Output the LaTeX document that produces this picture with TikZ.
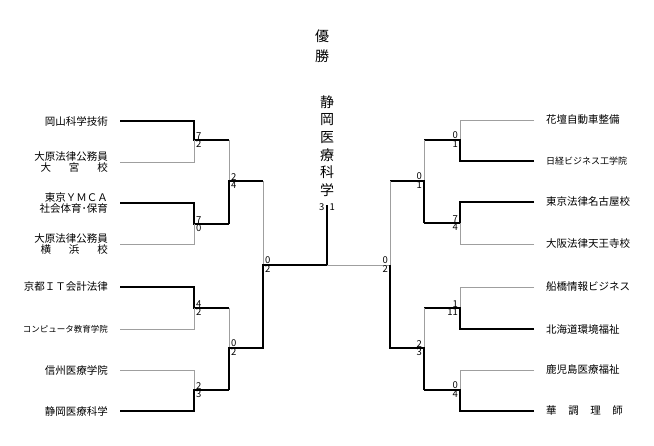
\documentclass[tikz,border=0pt]{standalone}
\usepackage{fontspec}
\newfontfamily\jp{Noto Sans CJK JP}
\begin{document}
\begin{tikzpicture}[x=1pt,y=-1pt,
 win/.style={line width=2.6pt,black},
 lose/.style={line width=0.6pt,gray!75},
 team/.style={font=\jp\fontsize{10.5}{10.5}\selectfont,inner sep=0pt,align=right},
 rteam/.style={font=\jp\fontsize{10.5}{10.5}\selectfont,inner sep=0pt,align=left},
 sc/.style={font=\jp\fontsize{9.5}{10}\selectfont,inner sep=0.8pt},
 vt/.style={font=\jp\fontsize{14}{15}\selectfont,inner sep=0pt}]
\useasboundingbox (0,0) rectangle (654,445);
% title
\node[vt] (t1) at (322,36) {優};
\node[vt] (t2) at (322,56) {勝};
\foreach \c [count=\i] in {静,岡,医,療,科,学}
  \node[vt] (w\i) at (327,85+17.5*\i) {\c};
% left teams
\node[team,anchor=east] (L1) at (108,121) {岡山科学技術};
\node[team,anchor=east] (L2) at (108,162) {大原法律公務員\\大\hspace{1.7em}宮\hspace{1.7em}校};
\node[team,anchor=east] (L3) at (108,203) {東京ＹＭＣＡ\\社会体育･保育};
\node[team,anchor=east] (L4) at (108,244) {大原法律公務員\\横\hspace{1.7em}浜\hspace{1.7em}校};
\node[team,anchor=east] (L5) at (108,287) {京都ＩＴ会計法律};
\node[team,anchor=east,font=\jp\fontsize{8.5}{9}\selectfont] (L6) at (108,329) {コンピュータ教育学院};
\node[team,anchor=east] (L7) at (108,370) {信州医療学院};
\node[team,anchor=east] (L8) at (108,411) {静岡医療科学};
% right teams
\node[rteam,anchor=west] (R1) at (546,120) {花壇自動車整備};
\node[rteam,anchor=west,font=\jp\fontsize{9}{9}\selectfont] (R2) at (546,161) {日経ビジネス工学院};
\node[rteam,anchor=west] (R3) at (546,202) {東京法律名古屋校};
\node[rteam,anchor=west] (R4) at (546,244) {大阪法律天王寺校};
\node[rteam,anchor=west] (R5) at (546,287) {船橋情報ビジネス};
\node[rteam,anchor=west] (R6) at (546,329) {北海道環境福祉};
\node[rteam,anchor=west] (R7) at (546,370) {鹿児島医療福祉};
\node[rteam,anchor=west] (R8) at (546,411) {華\hspace{1.1em}調\hspace{1.1em}理\hspace{1.1em}師};
% left lines
\draw[win] (120,121) -| (194,140) -- (229,140);
\draw[lose] (120,162) -| (194,140);
\draw[win] (120,203) -| (194,224) -- (229,224);
\draw[lose] (120,244) -| (194,224);
\draw[lose] (229,140) -- (229,181);
\draw[win] (229,224) -- (229,181) -- (263,181);
\draw[lose] (263,181) -- (263,265);
\draw[win] (120,287) -| (194,308) -- (229,308);
\draw[lose] (120,329) -| (194,308);
\draw[lose] (120,370) -| (194,390);
\draw[win] (120,411) -| (194,390) -- (229,390);
\draw[lose] (229,308) -- (229,348);
\draw[win] (229,390) -- (229,348) -- (263,348) -- (263,265) -- (327,265) -- (327,205);
% right lines
\draw[lose] (534,120) -| (460,140);
\draw[win] (534,161) -| (460,140) -- (424,140);
\draw[win] (534,202) -| (460,223) -- (424,223);
\draw[lose] (534,244) -| (460,223);
\draw[lose] (424,140) -- (424,181);
\draw[win] (424,223) -- (424,181) -- (390,181);
\draw[lose] (390,181) -- (390,265) -- (327,265);
\draw[lose] (534,287) -| (460,308);
\draw[win] (534,329) -| (460,308) -- (424,308);
\draw[lose] (534,370) -| (460,390);
\draw[win] (534,411) -| (460,390) -- (424,390);
\draw[lose] (424,308) -- (424,348);
\draw[win] (424,390) -- (424,348) -- (390,348) -- (390,265);
% left scores
\foreach \x/\y/\a/\b in {194/140/7/2,194/224/7/0,229/181/2/4,263/265/0/2,194/308/4/2,194/390/2/3,229/348/0/2}{
 \node[sc,anchor=south west] at (\x+1,\y) {\a};
 \node[sc,anchor=north west] at (\x+1,\y) {\b};}
% right scores
\foreach \x/\y/\a/\b in {460/140/0/1,460/223/7/4,424/181/0/1,390/265/0/2,460/308/1/11,460/390/0/4,424/348/2/3}{
 \node[sc,anchor=south east] at (\x-1,\y) {\a};
 \node[sc,anchor=north east] at (\x-1,\y) {\b};}
\node[sc,anchor=east] (f1) at (325.5,207) {3};
\node[sc,anchor=west] (f2) at (328.5,207) {1};
\end{tikzpicture}
\end{document}
